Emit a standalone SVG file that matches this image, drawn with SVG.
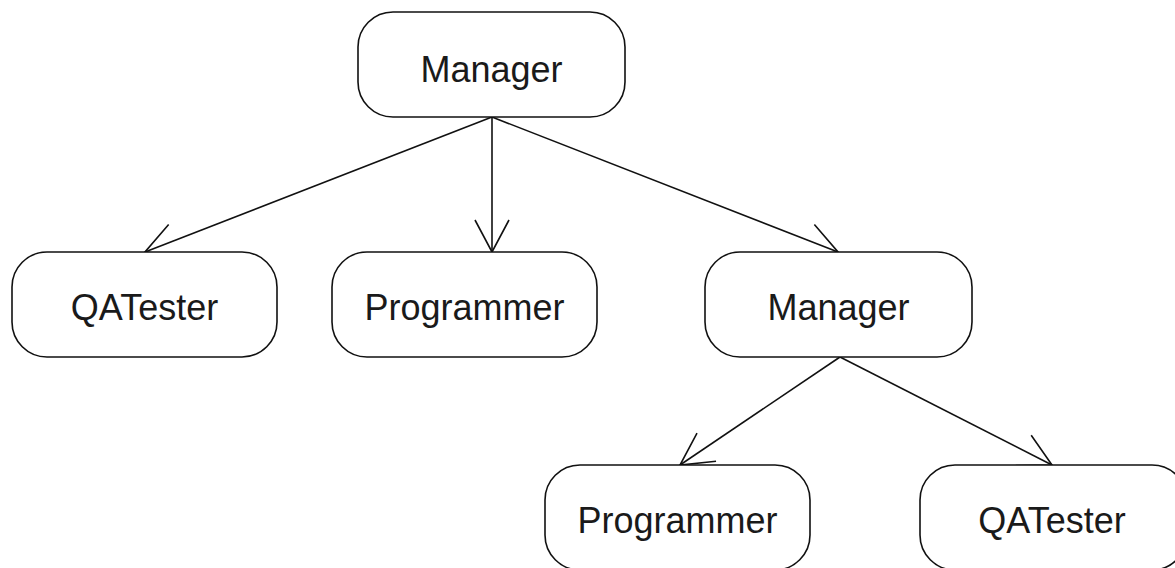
<svg xmlns="http://www.w3.org/2000/svg" width="1175" height="568" viewBox="0 0 1175 568">
<style>
.box{fill:#fff;stroke:#111;stroke-width:1.6}
.lbl{font-family:"Liberation Sans",Arial,sans-serif;font-size:36px;fill:#1a1a1a;text-anchor:middle}
.edge{fill:none;stroke:#111;stroke-width:1.6;marker-end:url(#arr)}
</style>
<defs>
<marker id="arr" markerUnits="userSpaceOnUse" markerWidth="40" markerHeight="40" viewBox="-36 -20 40 40" refX="0" refY="0" orient="auto" overflow="visible">
<path d="M-32,-17 L0,0 L-32,17" fill="none" stroke="#111" stroke-width="1.6"/>
</marker>
</defs>
<rect width="1175" height="568" fill="#fff"/>
<g id="connectors">
<line class="edge" x1="492" y1="117" x2="145" y2="252"/>
<line class="edge" x1="492" y1="117" x2="492" y2="252"/>
<line class="edge" x1="492" y1="117" x2="838" y2="252"/>
<line class="edge" x1="840" y1="357" x2="680" y2="465"/>
<line class="edge" x1="840" y1="357" x2="1052" y2="465"/>
</g>
<g id="manager1"><rect class="box" x="358" y="12" width="267" height="105" rx="35"/><text class="lbl" x="491.5" y="82">Manager</text></g>
<g id="qatester1"><rect class="box" x="12" y="252" width="265" height="105" rx="35"/><text class="lbl" x="144.5" y="320">QATester</text></g>
<g id="programmer1"><rect class="box" x="332" y="252" width="265" height="105" rx="35"/><text class="lbl" x="464.5" y="320">Programmer</text></g>
<g id="manager2"><rect class="box" x="705" y="252" width="267" height="105" rx="35"/><text class="lbl" x="838.5" y="320">Manager</text></g>
<g id="programmer2"><rect class="box" x="545" y="465" width="265" height="105" rx="35"/><text class="lbl" x="677.5" y="533">Programmer</text></g>
<g id="qatester2"><rect class="box" x="920" y="465" width="267" height="105" rx="35"/><text class="lbl" x="1052" y="533">QATester</text></g>
</svg>
